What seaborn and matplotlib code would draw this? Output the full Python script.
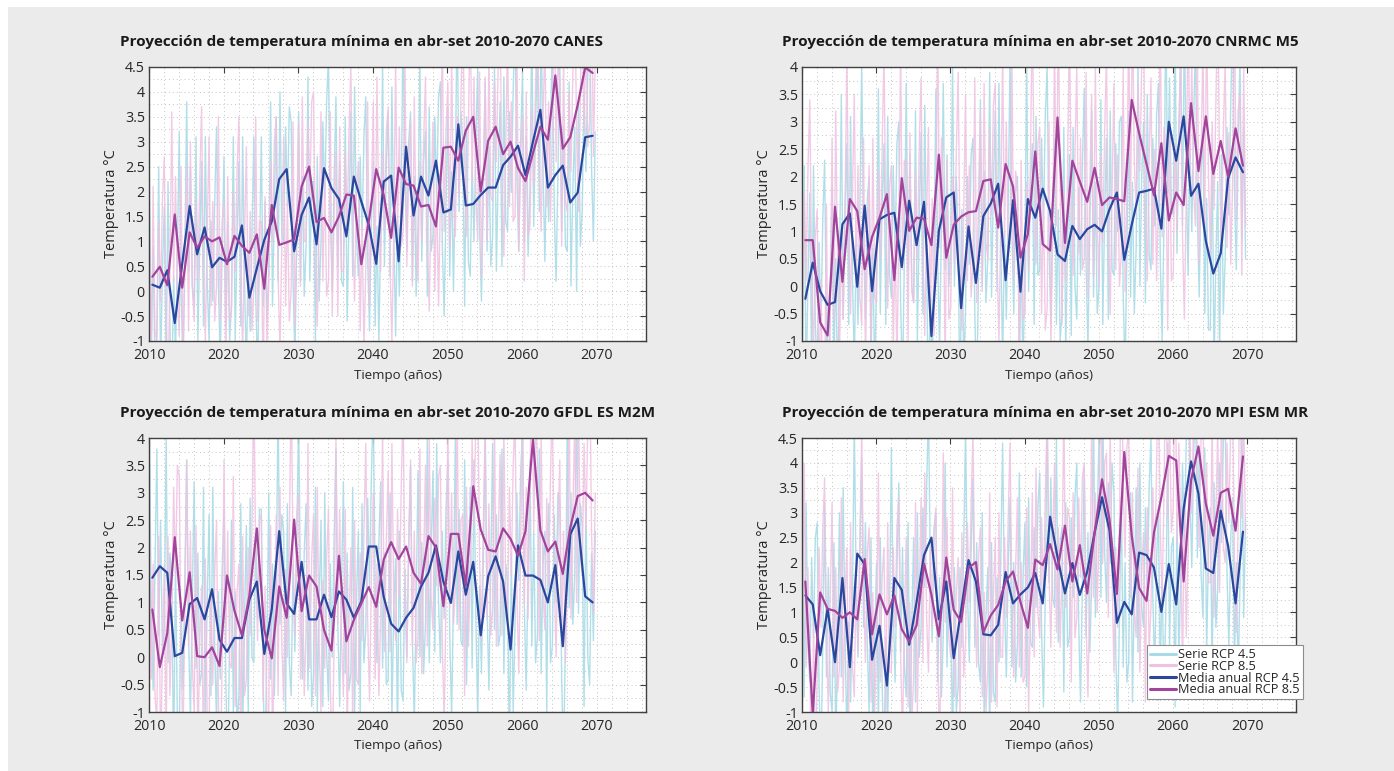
import numpy as np
import pandas as pd
import seaborn as sns
import matplotlib.pyplot as plt
from matplotlib.patches import Rectangle
from matplotlib.transforms import ScaledTranslation
from matplotlib.ticker import MultipleLocator, FuncFormatter

# years of the projection and the four sub-samples plotted inside each year
years = list(range(2010, 2070))
month_offsets = [0.05, 0.30, 0.55, 0.80]

titles = [
    "Proyección de temperatura mínima en abr-set 2010-2070 CANES",
    "Proyección de temperatura mínima en abr-set 2010-2070 CNRMC M5",
    "Proyección de temperatura mínima en abr-set 2010-2070 GFDL ES M2M",
    "Proyección de temperatura mínima en abr-set 2010-2070 MPI ESM MR",
]
ylims = [(-1, 4.5), (-1, 4), (-1, 4), (-1, 4.5)]

# ---- CANES ----
canes_rcp45_serie = [
    2.2, -1.2, 0.9, -1.5, -0.9, 2.5, -1.6, 0.4, 1.7, -1.6, 2.2, -0.7, -2.1, 0.3, -1.3, 0.7, 3.2, 0.0, -1.5, 0.7,
    3.8, 0.4, 2.5, 0.1, -0.3, 3.1, -1.0, 1.0, 2.6, -0.7, 3.1, 0.2, -1.0, 1.4, -0.2, 1.8, 3.3, 0.1, -1.4, 0.8,
    2.7, -0.7, 1.4, -1.0, -0.3, 3.1, -1.0, 1.0, 2.6, -0.7, 3.1, 0.2, -1.6, 0.8, -0.8, 1.2, 3.1, -0.1, -1.6, 0.6,
    3.1, -0.3, 1.8, -0.6, 0.4, 3.8, -0.3, 1.7, 3.5, 0.2, 4.0, 1.1, 1.0, 3.3, 1.7, 3.7, 3.4, 0.2, -1.3, 0.9,
    3.6, 0.2, 2.3, -0.1, 0.9, 4.3, 0.2, 2.2, 2.2, -1.1, 2.7, -0.2, 1.0, 3.4, 1.8, 3.8, 4.7, 1.5, 0.0, 2.2,
    3.9, 0.5, 2.6, 0.2, 0.1, 3.5, -0.6, 1.4, 3.6, 0.3, 4.1, 1.2, 0.3, 2.7, 1.1, 3.1, 3.9, 0.7, -0.8, 1.4,
    2.6, -0.7, 1.3, -1.0, 1.2, 4.6, 0.5, 2.5, 3.6, 0.3, 4.1, 1.2, -0.9, 1.5, -0.1, 1.9, 5.5, 2.3, 0.8, 3.0,
    3.6, 0.2, 2.3, -0.1, 1.3, 4.7, 0.6, 2.6, 3.2, -0.1, 3.7, 0.8, 1.1, 3.5, 1.9, 3.9, 4.2, 1.0, -0.5, 1.7,
    3.7, 0.3, 2.4, 0.0, 2.4, 5.8, 1.6, 3.6, 3.0, -0.3, 3.5, 0.6, 0.3, 2.6, 1.0, 3.0, 4.5, 1.3, -0.2, 2.0,
    4.2, 0.8, 2.9, 0.5, 1.1, 4.5, 0.4, 2.4, 3.8, 0.5, 4.3, 1.4, 1.2, 3.6, 2.0, 4.0, 5.5, 2.3, 0.8, 3.0,
    4.4, 1.0, 3.1, 0.7, 2.0, 5.4, 1.3, 3.3, 4.9, 1.6, 5.4, 2.5, 0.6, 3.0, 1.4, 3.4, 4.9, 1.7, 0.2, 2.4,
    4.6, 1.2, 3.3, 0.9, 0.8, 4.2, 0.1, 2.1, 3.3, 0.0, 3.8, 0.9, 1.6, 4.0, 2.4, 4.4, 5.7, 2.5, 1.0, 3.2,
]
canes_rcp85_serie = [
    1.6, -1.7, 2.1, -0.8, -1.0, 1.4, -0.2, 1.8, 2.7, -0.5, -2.0, 0.2, 3.6, 0.2, 2.3, -0.1, -0.9, 2.5, -1.6, 0.4,
    2.5, -0.8, 3.0, 0.1, -0.6, 1.8, 0.2, 2.2, 3.7, 0.5, -1.0, 1.2, 3.1, -0.3, 1.8, -0.6, 0.1, 3.5, -0.6, 1.4,
    1.8, -1.5, 2.3, -0.6, -0.4, 2.0, 0.4, 2.4, 3.5, 0.3, -1.2, 1.0, 2.9, -0.5, 1.6, -0.8, 0.1, 3.5, -0.6, 1.4,
    1.4, -2.0, 1.9, -1.1, 0.2, 2.6, 1.0, 3.0, 3.5, 0.3, -1.2, 1.0, 3.1, -0.3, 1.8, -0.6, 0.0, 3.4, -0.7, 1.3,
    3.4, 0.1, 3.9, 1.0, 1.0, 3.4, 1.8, 3.8, 4.0, 0.8, -0.7, 1.5, 3.6, 0.2, 2.3, -0.1, 0.2, 3.6, -0.5, 1.5,
    2.8, -0.5, 3.3, 0.4, 0.4, 2.8, 1.2, 3.2, 4.5, 1.3, -0.2, 2.0, 2.6, -0.8, 1.3, -1.1, 0.4, 3.8, -0.3, 1.7,
    3.8, 0.5, 4.3, 1.4, 0.4, 2.8, 1.2, 3.2, 3.7, 0.5, -1.0, 1.2, 4.6, 1.2, 3.3, 0.9, 1.2, 4.6, 0.5, 2.5,
    3.4, 0.1, 3.9, 1.0, 0.2, 2.6, 1.0, 3.0, 4.3, 1.1, -0.4, 1.8, 3.4, 0.0, 2.1, -0.3, 1.9, 5.3, 1.2, 3.2,
    4.2, 0.9, 4.7, 1.8, 1.1, 3.5, 1.9, 3.9, 5.8, 2.6, 1.1, 3.3, 5.6, 2.2, 4.3, 1.9, 1.0, 4.4, 0.3, 2.3,
    4.3, 1.0, 4.8, 1.9, 1.8, 4.2, 2.6, 4.6, 5.4, 2.2, 0.7, 2.9, 5.1, 1.7, 3.8, 1.4, 1.5, 4.9, 0.8, 2.8,
    3.5, 0.2, 4.0, 1.1, 1.3, 3.7, 2.1, 4.1, 5.9, 2.7, 1.2, 3.4, 5.1, 1.7, 3.8, 1.4, 3.3, 6.7, 2.6, 4.6,
    4.2, 0.9, 4.7, 1.8, 1.6, 4.0, 2.4, 4.4, 6.3, 3.1, 1.6, 3.8, 6.6, 3.2, 5.3, 2.9, 3.4, 6.8, 2.7, 4.7,
]
canes_rcp45_media = [
    0.13, 0.07, 0.42, -0.64, 0.55, 1.71, 0.74, 1.28, 0.48, 0.67,
    0.59, 0.69, 1.32, -0.13, 0.46, 1.03, 1.40, 2.25, 2.45, 0.80,
    1.53, 1.88, 0.94, 2.47, 2.07, 1.85, 1.10, 2.30, 1.80, 1.33,
    0.55, 2.20, 2.32, 0.60, 2.90, 1.52, 2.30, 1.92, 2.62, 1.58,
    1.64, 3.35, 1.72, 1.75, 1.93, 2.08, 2.08, 2.53, 2.70, 2.92,
    2.33, 3.00, 3.64, 2.08, 2.33, 2.52, 1.78, 1.98, 3.09, 3.12,
]
canes_rcp85_media = [
    0.29, 0.49, 0.12, 1.54, 0.07, 1.18, 0.87, 1.10, 1.00, 1.08,
    0.54, 1.11, 0.91, 0.77, 1.14, 0.05, 1.73, 0.93, 0.98, 1.04,
    2.10, 2.50, 1.39, 1.47, 1.18, 1.50, 1.94, 1.92, 0.54, 1.40,
    2.45, 1.93, 1.07, 2.48, 2.15, 2.12, 1.70, 1.73, 1.30, 2.88,
    2.90, 2.62, 3.22, 3.50, 2.00, 3.02, 3.30, 2.75, 3.00, 2.47,
    2.21, 2.77, 3.30, 3.04, 4.33, 2.86, 3.09, 3.74, 4.49, 4.38,
]

# ---- CNRMC M5 ----
cnrmc_rcp45_serie = [
    -1.2, 2.2, -1.9, 0.1, 1.7, -1.6, 2.2, -0.7, -1.6, 0.8, -0.8, 1.2, 2.3, -0.9, -2.4, -0.2, 1.8, -1.6, 0.5, -1.9,
    0.1, 3.5, -0.6, 1.4, 2.6, -0.7, 3.1, 0.2, -1.5, 0.9, -0.7, 1.3, 4.1, 0.9, -0.6, 1.6, 2.0, -1.4, 0.7, -1.7,
    0.2, 3.6, -0.5, 1.5, 2.6, -0.7, 3.1, 0.2, -0.2, 2.2, 0.6, 2.6, 3.0, -0.3, -1.8, 0.5, 3.7, 0.3, 2.4, 0.0,
    -0.3, 3.2, -1.0, 1.1, 2.8, -0.5, 3.3, 0.4, -2.4, 0.0, -1.6, 0.4, 3.6, 0.4, -1.1, 1.1, 3.7, 0.3, 2.4, 0.0,
    0.7, 4.1, 0.0, 2.0, 0.9, -2.4, 1.4, -1.5, -0.4, 2.0, 0.4, 2.4, 2.7, -0.5, -2.0, 0.2, 3.4, 0.0, 2.1, -0.3,
    0.5, 3.9, -0.2, 1.8, 3.2, -0.1, 3.7, 0.8, -1.4, 1.0, -0.6, 1.4, 4.2, 1.0, -0.5, 1.7, 2.0, -1.4, 0.7, -1.7,
    0.6, 4.0, -0.1, 1.9, 2.6, -0.7, 3.1, 0.2, 0.3, 2.7, 1.1, 3.1, 4.0, 0.8, -0.7, 1.5, 2.7, -0.7, 1.4, -1.0,
    -0.5, 2.9, -1.2, 0.8, 2.4, -0.9, 2.9, 0.0, -0.6, 1.8, 0.2, 2.2, 3.6, 0.4, -1.1, 1.1, 3.2, -0.2, 1.9, -0.5,
    0.0, 3.4, -0.7, 1.3, 2.7, -0.6, 3.2, 0.3, 0.2, 2.6, 1.0, 3.0, 3.1, -0.1, -1.6, 0.6, 3.2, -0.2, 1.9, -0.5,
    0.7, 4.1, 0.0, 2.0, 3.0, -0.3, 3.5, 0.6, 0.3, 2.7, 1.1, 3.1, 3.7, 0.5, -1.0, 1.2, 5.1, 1.7, 3.8, 1.4,
    1.3, 4.7, 0.6, 2.6, 4.4, 1.1, 4.9, 2.0, 0.2, 2.6, 1.0, 3.0, 4.5, 1.3, -0.2, 2.0, 2.9, -0.5, 1.6, -0.8,
    -0.8, 2.6, -1.5, 0.5, 1.9, -1.4, 2.4, -0.5, 0.5, 2.9, 1.3, 3.3, 5.0, 1.8, 0.3, 2.5, 4.2, 0.8, 2.9, 0.5,
]
cnrmc_rcp85_serie = [
    -0.7, 1.7, 0.1, 2.1, 3.4, 0.2, -1.3, 0.9, 1.4, -2.0, 0.1, -2.3, -1.9, 1.5, -2.6, -0.6, 2.7, -0.6, 3.2, 0.3,
    -1.4, 1.0, -0.6, 1.4, 4.2, 1.0, -0.5, 1.7, 3.5, 0.1, 2.2, -0.2, -0.7, 2.7, -1.4, 0.6, 2.2, -1.1, 2.7, -0.2,
    -0.3, 2.1, 0.5, 2.5, 4.3, 1.1, -0.4, 1.8, 2.2, -1.2, 0.9, -1.5, 1.0, 4.4, 0.3, 2.3, 2.3, -1.0, 2.8, -0.1,
    -0.3, 2.1, 0.5, 2.5, 3.8, 0.6, -0.9, 1.3, 2.9, -0.6, 1.6, -0.9, 1.4, 4.8, 0.7, 2.7, 1.8, -1.5, 2.3, -0.6,
    -0.4, 2.0, 0.4, 2.4, 3.9, 0.7, -0.8, 1.4, 3.5, 0.1, 2.2, -0.2, 0.4, 3.8, -0.3, 1.7, 3.2, -0.1, 3.7, 0.8,
    0.5, 2.9, 1.3, 3.3, 3.7, 0.5, -1.0, 1.2, 4.3, 0.9, 3.0, 0.6, 0.8, 4.2, 0.1, 2.1, 1.8, -1.5, 2.3, -0.6,
    -0.5, 1.9, 0.3, 2.3, 5.1, 1.9, 0.4, 2.6, 2.9, -0.5, 1.6, -0.8, -0.4, 3.0, -1.1, 0.9, 4.4, 1.1, 4.9, 2.0,
    -0.7, 1.7, 0.1, 2.1, 4.9, 1.7, 0.2, 2.4, 4.0, 0.6, 2.7, 0.3, 0.5, 3.9, -0.2, 1.8, 3.5, 0.2, 4.0, 1.1,
    0.0, 2.4, 0.8, 2.8, 4.2, 1.0, -0.5, 1.7, 3.7, 0.3, 2.4, 0.0, 0.6, 4.0, -0.1, 1.9, 4.7, 1.4, 5.2, 2.3,
    1.3, 3.7, 2.1, 4.1, 4.8, 1.6, 0.1, 2.3, 3.8, 0.4, 2.5, 0.1, 1.6, 5.0, 0.9, 2.9, 2.5, -0.8, 3.0, 0.1,
    0.2, 2.6, 1.0, 3.0, 4.1, 0.9, -0.6, 1.6, 5.4, 2.0, 4.1, 1.7, 1.1, 4.5, 0.4, 2.4, 4.4, 1.1, 4.9, 2.0,
    0.6, 3.0, 1.4, 3.4, 5.3, 2.1, 0.6, 2.8, 4.1, 0.7, 2.8, 0.4, 1.9, 5.3, 1.2, 3.2, 3.5, 0.2, 4.0, 1.1,
]
cnrmc_rcp45_media = [
    -0.23, 0.43, -0.09, -0.34, -0.29, 1.13, 1.33, -0.01, 1.47, -0.09,
    1.22, 1.30, 1.34, 0.35, 1.56, 0.75, 1.54, -0.91, 1.01, 1.62,
    1.71, -0.40, 1.09, 0.06, 1.28, 1.51, 1.87, 0.11, 1.57, -0.10,
    1.59, 1.25, 1.78, 1.37, 0.58, 0.46, 1.10, 0.86, 1.04, 1.12,
    1.00, 1.40, 1.71, 0.48, 1.12, 1.71, 1.74, 1.78, 1.05, 3.00,
    2.29, 3.10, 1.65, 1.87, 0.82, 0.23, 0.60, 1.97, 2.35, 2.08,
]
cnrmc_rcp85_media = [
    0.84, 0.84, -0.66, -0.90, 1.45, 0.08, 1.59, 1.37, 0.31, 0.90,
    1.25, 1.68, 0.11, 1.97, 1.01, 1.25, 1.23, 0.75, 2.40, 0.52,
    1.12, 1.27, 1.35, 1.37, 1.92, 1.95, 1.07, 2.23, 1.82, 0.52,
    0.95, 2.46, 0.77, 0.65, 3.08, 0.79, 2.29, 1.91, 1.54, 2.16,
    1.48, 1.62, 1.59, 1.55, 3.40, 2.79, 2.23, 1.66, 2.61, 1.20,
    1.71, 1.48, 3.34, 2.10, 3.10, 2.05, 2.65, 2.00, 2.88, 2.20,
]

# ---- GFDL ES M2M ----
gfdl_rcp45_serie = [
    4.1, 0.9, -0.6, 1.6, 3.8, 0.4, 2.5, 0.1, 0.6, 4.0, -0.1, 1.9, 1.3, -2.0, 1.8, -1.1, -1.4, 1.0, -0.6, 1.4,
    3.6, 0.4, -1.1, 1.1, 3.2, -0.2, 1.9, -0.5, -0.3, 3.1, -1.0, 1.0, 2.6, -0.7, 3.1, 0.2, -1.2, 1.2, -0.4, 1.6,
    2.7, -0.5, -2.0, 0.2, 2.5, -1.0, 1.2, -1.3, -0.7, 2.8, -1.4, 0.7, 2.4, -1.0, 2.9, 0.0, -0.1, 2.3, 0.7, 2.7,
    2.7, -0.5, -2.0, 0.2, 3.0, -0.4, 1.7, -0.7, 1.3, 4.7, 0.6, 2.6, 2.3, -1.0, 2.8, -0.1, -0.7, 1.7, 0.1, 2.1,
    4.4, 1.2, -0.4, 1.9, 2.8, -0.6, 1.5, -0.9, -0.3, 3.1, -1.0, 1.0, 2.5, -0.9, 3.0, 0.1, -0.8, 1.7, 0.0, 2.1,
    3.8, 0.6, -0.9, 1.3, 3.2, -0.3, 1.9, -0.6, -0.3, 3.1, -1.0, 1.0, 2.3, -1.0, 2.8, -0.1, 0.5, 2.9, 1.3, 3.3,
    4.6, 1.4, -0.1, 2.1, 3.2, -0.2, 1.9, -0.5, -0.4, 3.0, -1.1, 0.9, 1.8, -1.5, 2.3, -0.6, -0.8, 1.6, 0.0, 2.0,
    3.5, 0.3, -1.2, 1.0, 3.4, 0.0, 2.1, -0.3, 0.6, 4.0, -0.1, 1.9, 3.4, 0.1, 3.9, 1.0, -0.1, 2.3, 0.7, 2.7,
    3.6, 0.4, -1.1, 1.1, 4.0, 0.6, 2.7, 0.3, 0.2, 3.6, -0.5, 1.5, 3.1, -0.2, 3.6, 0.7, -1.1, 1.3, -0.3, 1.7,
    4.1, 0.9, -0.6, 1.6, 3.9, 0.5, 2.6, 0.2, 0.4, 3.8, -0.3, 1.7, 1.4, -1.9, 1.9, -1.0, 0.6, 3.0, 1.4, 3.4,
    4.1, 0.9, -0.6, 1.6, 3.6, 0.2, 2.3, -0.1, 0.4, 3.8, -0.3, 1.7, 2.3, -1.0, 2.8, -0.1, 0.2, 2.6, 1.0, 3.0,
    2.8, -0.4, -1.9, 0.3, 4.3, 0.9, 3.0, 0.6, 1.5, 4.9, 0.8, 2.8, 2.4, -0.9, 2.9, 0.0, -0.5, 1.9, 0.3, 2.3,
]
gfdl_rcp85_serie = [
    3.0, -0.4, 1.7, -0.7, -1.2, 2.2, -1.9, 0.1, 1.7, -1.6, 2.2, -0.7, 0.7, 3.1, 1.5, 3.5, 3.3, 0.0, -1.5, 0.8,
    3.6, 0.2, 2.3, -0.1, -1.0, 2.4, -1.7, 0.3, 1.3, -2.0, 1.8, -1.1, -1.3, 1.1, -0.5, 1.5, 2.5, -0.8, -2.3, -0.1,
    3.6, 0.2, 2.3, -0.1, -0.2, 3.3, -0.9, 1.2, 1.7, -1.6, 2.2, -0.7, -0.4, 2.0, 0.4, 2.4, 5.0, 1.8, 0.3, 2.5,
    2.6, -0.8, 1.3, -1.1, -1.0, 2.4, -1.7, 0.3, 2.6, -0.7, 3.1, 0.2, -0.8, 1.6, 0.0, 2.0, 5.1, 1.9, 0.4, 2.6,
    3.0, -0.4, 1.7, -0.7, 0.5, 3.9, -0.2, 1.8, 2.6, -0.7, 3.1, 0.2, -1.0, 1.4, -0.2, 1.8, 2.7, -0.5, -2.0, 0.2,
    4.0, 0.6, 2.7, 0.3, -0.7, 2.7, -1.4, 0.6, 2.0, -1.3, 2.5, -0.4, -0.5, 1.9, 0.3, 2.3, 3.9, 0.7, -0.8, 1.4,
    3.0, -0.4, 1.7, -0.7, 0.8, 4.2, 0.1, 2.1, 3.4, 0.1, 3.9, 1.0, 0.3, 2.7, 1.1, 3.1, 4.6, 1.4, -0.1, 2.1,
    3.6, 0.2, 2.3, -0.1, 0.4, 3.8, -0.3, 1.7, 3.5, 0.2, 4.0, 1.1, 0.5, 2.9, 1.3, 3.3, 3.5, 0.3, -1.2, 1.0,
    4.3, 0.9, 3.0, 0.6, 1.2, 4.6, 0.5, 2.5, 2.6, -0.7, 3.1, 0.2, 1.6, 4.0, 2.4, 4.4, 5.0, 1.8, 0.3, 2.5,
    4.1, 0.7, 2.8, 0.4, 0.9, 4.3, 0.2, 2.2, 3.7, 0.4, 4.2, 1.3, 0.7, 3.1, 1.5, 3.5, 4.4, 1.2, -0.3, 1.9,
    4.4, 1.0, 3.1, 0.7, 3.0, 6.4, 2.3, 4.3, 3.6, 0.3, 4.1, 1.2, 0.5, 2.9, 1.3, 3.3, 4.7, 1.5, 0.0, 2.2,
    3.6, 0.2, 2.3, -0.1, 1.4, 4.8, 0.7, 2.7, 4.3, 1.0, 4.8, 1.9, 1.5, 3.9, 2.3, 4.3, 5.5, 2.3, 0.8, 3.0,
]
gfdl_rcp45_media = [
    1.45, 1.66, 1.54, 0.02, 0.08, 0.97, 1.08, 0.69, 1.24, 0.32,
    0.10, 0.35, 0.35, 1.05, 1.38, 0.06, 0.87, 2.30, 0.98, 0.79,
    1.74, 0.69, 0.69, 1.14, 0.73, 1.20, 1.05, 0.72, 1.02, 2.02,
    2.02, 1.10, 0.61, 0.47, 0.72, 0.90, 1.29, 1.54, 2.04, 1.38,
    0.99, 1.93, 1.14, 1.74, 0.40, 1.48, 1.84, 1.38, 0.14, 2.04,
    1.49, 1.49, 1.41, 1.00, 1.68, 0.20, 2.24, 2.53, 1.11, 1.00,
]
gfdl_rcp85_media = [
    0.87, -0.18, 0.44, 2.19, 0.67, 1.55, 0.02, 0.00, 0.18, -0.16,
    1.49, 0.85, 0.40, 1.12, 2.35, 0.50, -0.02, 1.29, 0.72, 2.51,
    0.84, 1.49, 1.29, 0.50, 0.12, 1.85, 0.29, 0.68, 0.98, 1.28,
    0.92, 1.78, 2.10, 1.79, 2.02, 1.54, 1.34, 2.21, 2.00, 0.93,
    2.25, 2.25, 1.30, 3.12, 2.33, 1.96, 1.93, 2.35, 2.16, 1.85,
    2.30, 3.97, 2.31, 1.93, 2.11, 1.52, 2.36, 2.94, 3.00, 2.86,
]

# ---- MPI ESM MR ----
mpi_rcp45_serie = [
    2.7, -0.7, 3.2, 0.3, -0.4, 2.1, 0.5, 2.5, 2.8, -0.5, -2.0, 0.3, 3.2, -0.3, 1.9, -0.6, -1.0, 2.4, -1.7, 0.3,
    3.0, -0.3, 3.5, 0.6, -1.6, 0.8, -0.8, 1.2, 4.8, 1.6, 0.1, 2.3, 4.1, 0.7, 2.8, 0.4, -1.0, 2.5, -1.7, 0.4,
    2.0, -1.3, 2.5, -0.4, -2.0, 0.5, -1.2, 0.9, 4.3, 1.1, -0.4, 1.8, 3.6, 0.2, 2.3, -0.1, -0.7, 2.8, -1.4, 0.7,
    2.5, -0.8, 3.0, 0.1, 0.7, 3.1, 1.5, 3.5, 5.1, 1.9, 0.4, 2.6, 3.0, -0.4, 1.7, -0.7, 0.6, 4.0, -0.1, 1.9,
    1.4, -1.9, 1.9, -1.0, -0.5, 1.9, 0.3, 2.3, 4.7, 1.5, 0.0, 2.2, 3.7, 0.3, 2.4, 0.0, -0.4, 3.0, -1.1, 0.9,
    1.9, -1.5, 2.4, -0.6, -0.8, 1.7, 0.0, 2.1, 4.4, 1.2, -0.3, 1.9, 3.3, -0.1, 2.0, -0.4, 0.4, 3.8, -0.3, 1.7,
    2.8, -0.5, 3.3, 0.4, 0.3, 2.7, 1.1, 3.1, 3.8, 0.6, -0.9, 1.3, 5.0, 1.6, 3.7, 1.3, 1.1, 4.5, 0.4, 2.4,
    2.7, -0.6, 3.2, 0.3, 0.5, 2.9, 1.3, 3.3, 4.0, 0.8, -0.8, 1.5, 3.9, 0.5, 2.6, 0.2, 1.6, 5.0, 0.9, 2.9,
    4.6, 1.3, 5.1, 2.2, 1.2, 3.6, 2.0, 4.0, 3.4, 0.2, -1.3, 0.9, 3.3, -0.1, 2.0, -0.4, 0.0, 3.4, -0.8, 1.3,
    3.5, 0.2, 4.0, 1.1, 0.7, 3.1, 1.5, 3.5, 4.5, 1.3, -0.2, 2.0, 3.1, -0.3, 1.8, -0.6, 1.0, 4.4, 0.3, 2.3,
    2.5, -0.9, 3.0, 0.1, 1.6, 4.0, 2.4, 4.4, 6.6, 3.4, 1.9, 4.1, 5.5, 2.1, 4.2, 1.8, 0.9, 4.3, 0.2, 2.2,
    3.1, -0.2, 3.6, 0.7, 1.5, 4.0, 2.4, 4.4, 5.0, 1.8, 0.3, 2.5, 3.3, -0.1, 2.0, -0.4, 1.6, 5.0, 0.9, 2.9,
]
mpi_rcp85_serie = [
    0.6, 4.0, -0.1, 1.9, 0.3, -3.1, 0.8, -2.2, -0.1, 2.3, 0.7, 2.7, 3.7, 0.5, -1.0, 1.2, 3.2, -0.3, 1.9, -0.6,
    -0.1, 3.3, -0.8, 1.2, 2.3, -1.0, 2.8, -0.1, -0.7, 1.8, 0.2, 2.2, 4.7, 1.5, 0.0, 2.2, 2.7, -0.8, 1.4, -1.0,
    0.4, 3.8, -0.4, 1.7, 2.3, -1.1, 2.8, -0.2, -0.2, 2.3, 0.7, 2.7, 3.3, 0.1, -1.5, 0.8, 2.5, -0.9, 1.2, -1.2,
    -0.3, 3.2, -1.0, 1.1, 3.3, 0.0, 3.8, 0.9, -0.2, 2.3, 0.7, 2.7, 3.1, -0.1, -1.6, 0.6, 4.2, 0.8, 2.9, 0.5,
    0.1, 3.5, -0.7, 1.4, 2.1, -1.2, 2.6, -0.3, 0.4, 2.8, 1.2, 3.2, 4.6, 1.4, -0.1, 2.1, 2.7, -0.7, 1.4, -1.0,
    -0.1, 3.4, -0.8, 1.3, 2.5, -0.9, 3.0, 0.1, 0.1, 2.5, 0.9, 2.9, 4.4, 1.2, -0.3, 1.9, 3.3, -0.1, 2.0, -0.4,
    -0.3, 3.1, -1.0, 1.0, 3.4, 0.1, 3.9, 1.0, 0.5, 2.9, 1.3, 3.3, 5.0, 1.8, 0.3, 2.5, 4.0, 0.6, 2.7, 0.3,
    1.8, 5.2, 1.1, 3.1, 2.9, -0.4, 3.4, 0.5, 0.9, 3.3, 1.7, 3.7, 4.0, 0.8, -0.7, 1.5, 4.7, 1.3, 3.4, 1.0,
    2.7, 6.1, 2.0, 4.0, 4.2, 0.9, 4.7, 1.8, -0.2, 2.3, 0.7, 2.7, 6.8, 3.6, 2.1, 4.3, 4.7, 1.3, 3.4, 1.0,
    0.5, 3.9, -0.2, 1.8, 2.6, -0.8, 3.1, 0.2, 1.1, 3.5, 1.9, 3.9, 5.9, 2.7, 1.2, 3.4, 6.3, 2.9, 5.0, 2.6,
    3.1, 6.5, 2.4, 4.4, 2.9, -0.4, 3.4, 0.5, 2.2, 4.6, 3.0, 5.0, 7.0, 3.8, 2.3, 4.5, 5.3, 1.9, 4.0, 1.6,
    1.6, 5.0, 0.9, 2.9, 4.7, 1.4, 5.2, 2.3, 2.0, 4.4, 2.8, 4.8, 5.3, 2.1, 0.6, 2.8, 6.3, 2.9, 5.0, 2.6,
]
mpi_rcp45_media = [
    1.34, 1.16, 0.14, 1.07, 0.00, 1.69, -0.10, 2.18, 1.96, 0.05,
    0.73, -0.47, 1.69, 1.45, 0.35, 1.21, 2.15, 2.50, 0.86, 1.62,
    0.08, 1.04, 2.05, 1.62, 0.56, 0.54, 0.75, 1.81, 1.18, 1.36,
    1.50, 1.79, 1.18, 2.92, 2.11, 1.38, 1.99, 1.35, 1.82, 2.60,
    3.31, 2.65, 0.79, 1.21, 0.96, 2.20, 2.15, 1.90, 1.01, 1.97,
    1.16, 3.08, 4.03, 3.38, 1.88, 1.79, 3.04, 2.33, 1.18, 2.62,
]
mpi_rcp85_media = [
    1.62, -1.05, 1.40, 1.07, 1.03, 0.89, 1.00, 0.86, 2.07, 0.56,
    1.36, 0.96, 1.34, 0.66, 0.41, 0.74, 1.98, 1.35, 0.52, 2.10,
    1.05, 0.81, 1.89, 2.01, 0.60, 0.94, 1.15, 1.62, 1.82, 1.21,
    0.69, 2.06, 1.95, 2.37, 1.86, 2.74, 1.62, 2.35, 1.38, 2.60,
    3.67, 2.87, 1.37, 4.22, 2.54, 1.49, 1.23, 2.60, 3.31, 4.14,
    4.05, 1.62, 3.65, 4.33, 3.18, 2.54, 3.40, 3.48, 2.64, 4.13,
]

series = [
    (canes_rcp45_serie, canes_rcp85_serie, canes_rcp45_media, canes_rcp85_media),
    (cnrmc_rcp45_serie, cnrmc_rcp85_serie, cnrmc_rcp45_media, cnrmc_rcp85_media),
    (gfdl_rcp45_serie, gfdl_rcp85_serie, gfdl_rcp45_media, gfdl_rcp85_media),
    (mpi_rcp45_serie, mpi_rcp85_serie, mpi_rcp45_media, mpi_rcp85_media),
]

# colours
c_serie45 = "#a9dbe6"
c_serie85 = "#efc2e2"
c_media45 = "#2a479e"
c_media85 = "#a2449c"

sns.set_style("white")
plt.rcParams['font.family'] = ['Open Sans', 'DejaVu Sans']

W, H = 1394, 771
fig = plt.figure(figsize=(W / 100, H / 100), dpi=100)
fig.patch.set_facecolor("white")
fig.add_artist(Rectangle((8 / W, 0), 1, 1 - 7 / H, transform=fig.transFigure,
                         facecolor="#ebebeb", edgecolor="none", zorder=-10))

# axes boxes in pixels (left, top, right, bottom)
boxes = [(149, 67, 646, 341), (802, 67, 1296, 341), (149, 438, 646, 712), (802, 438, 1296, 712)]
title_pos = [(120, 42), (782, 42), (120, 413), (782, 413)]

x_serie = [y + o for y in years for o in month_offsets]
x_media = [y + 0.45 for y in years]

for i, (x0, y0, x1, y1) in enumerate(boxes):
    ax = fig.add_axes([x0 / W, 1 - y1 / H, (x1 - x0) / W, (y1 - y0) / H])
    ax.set_facecolor("white")
    s45, s85, m45, m85 = series[i]

    sns.lineplot(x=x_serie, y=s45, ax=ax, color=c_serie45, linewidth=1.0, alpha=0.9,
                 estimator=None, sort=False, label="Serie RCP 4.5")
    sns.lineplot(x=x_serie, y=s85, ax=ax, color=c_serie85, linewidth=1.0, alpha=0.85,
                 estimator=None, sort=False, label="Serie RCP 8.5")
    sns.lineplot(x=x_media, y=m45, ax=ax, color=c_media45, linewidth=1.6,
                 estimator=None, sort=False, label="Media anual RCP 4.5")
    sns.lineplot(x=x_media, y=m85, ax=ax, color=c_media85, linewidth=1.6,
                 estimator=None, sort=False, label="Media anual RCP 8.5")

    ax.set_xlim(2010, 2076.6)
    ax.set_ylim(*ylims[i])
    ax.set_xticks(range(2010, 2071, 10))
    ax.yaxis.set_major_locator(MultipleLocator(0.5))
    ax.xaxis.set_minor_locator(MultipleLocator(2))
    ax.yaxis.set_minor_locator(MultipleLocator(0.25))
    ax.yaxis.set_major_formatter(FuncFormatter(lambda v, p: f"{v:g}"))
    ax.grid(which="both", linestyle=(0, (1, 3)), color="#c4c4c4", linewidth=0.7)
    ax.set_axisbelow(True)
    ax.tick_params(which="major", direction="in", length=4, top=True, right=True,
                   labelsize=10.3, color="#404040", labelcolor="#262626")
    ax.tick_params(axis="x", which="major", pad=5)
    ax.tick_params(axis="y", which="major", pad=3)
    ax.tick_params(which="minor", length=0)
    for sp in ax.spines.values():
        sp.set_color("#404040")
        sp.set_linewidth(1.0)

    ax.set_xlabel("Tiempo (años)", fontsize=9.5, color="#262626", labelpad=4)
    ax.set_ylabel("Temperatura °C", fontsize=10.5, color="#262626", labelpad=1)

    # lift the lowest y label a little, as in the original, so it clears "2010"
    low = ax.yaxis.get_major_ticks()[0].label1
    low.set_transform(low.get_transform() + ScaledTranslation(0, 5 / 100, fig.dpi_scale_trans))

    tx, ty = title_pos[i]
    fig.text(tx / W, 1 - ty / H, titles[i], fontsize=11, fontweight="bold",
             color="#1a1a1a", ha="left", va="center")

    leg = ax.get_legend()
    if leg is not None:
        leg.remove()
    if i == 3:
        handles, labels = ax.get_legend_handles_labels()
        lg = ax.legend(handles, labels, loc="upper left", bbox_to_anchor=(0.698, 0.245),
                       borderaxespad=0, fontsize=9.2, frameon=True, fancybox=False,
                       framealpha=1, edgecolor="#8c8c8c", handlelength=2.0,
                       handletextpad=0.2, labelspacing=-0.1, borderpad=0.25)
        lg.get_frame().set_linewidth(0.8)
        for h in lg.get_lines():
            h.set_linewidth(2.2)
            h.set_alpha(1)

fig.savefig("out.png", dpi=100)
